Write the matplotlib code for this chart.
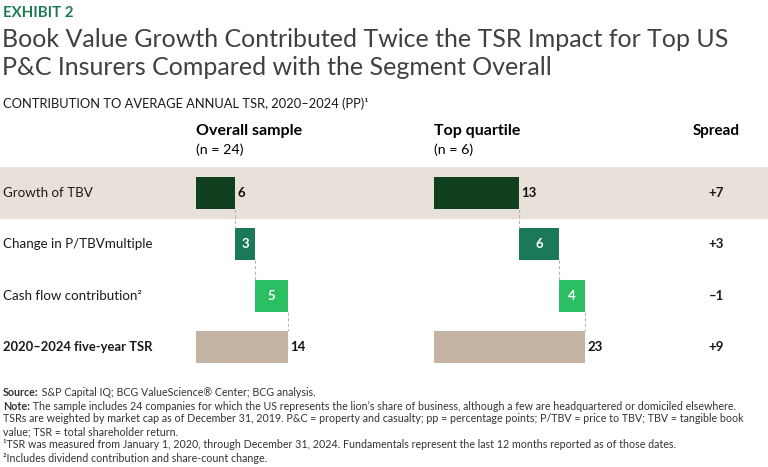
import numpy as np
import matplotlib.pyplot as plt

# data
rows = ["Growth of TBV", "Change in P/TBVmultiple",
        "Cash flow contribution\u00b2", "2020\u20132024 five-year TSR"]
overall = [6, 3, 5, 14]
top_quartile = [13, 6, 4, 23]
spread = [t - o for t, o in zip(top_quartile, overall)]

dark_green = "#0f3f1f"
mid_green = "#1a7a57"
light_green = "#2bbf63"
tan = "#c5b4a3"
band = "#e7e1d9"
bar_colors = [dark_green, mid_green, light_green, tan]

plt.rcParams['font.family'] = ['Lato', 'DejaVu Sans']

W, H = 768, 467
fig = plt.figure(figsize=(W / 100, H / 100), dpi=100)

# rows sit at pixel centers ~193..347, 51.3 px apart
row_px = 51.3
top_px = 193 - row_px / 2
bot_px = top_px + 4 * row_px
ax_y = (H - bot_px) / H
ax_h = (bot_px - top_px) / H
unit_px = 6.57
span = 30

ax_bg = fig.add_axes([0, ax_y, 1, ax_h])
ax_bg.set_xlim(0, 1)
ax_bg.set_ylim(3.5, -0.5)
ax_bg.axis("off")
ax_bg.axhspan(-0.5, 0.5, color=band, lw=0)
for i, lab in enumerate(rows):
    ax_bg.text(3 / W, i, lab, va="center", ha="left",
               fontsize=9.4 if i == 3 else 9.6,
               fontweight="bold" if i == 3 else "normal", color="#1a1a1a")
    s = spread[i]
    txt = ("+%d" % s) if s > 0 else ("\u2013%d" % abs(s))
    ax_bg.text(716 / W, i, txt, va="center", ha="center", fontsize=9.5,
               fontweight="bold", color="#1a1a1a")


def waterfall(ax, vals):
    h = 0.62
    starts = [0, vals[0], vals[0] + vals[1], 0]
    for i, (v, s) in enumerate(zip(vals, starts)):
        ax.barh(i, v, left=s, height=h, color=bar_colors[i], lw=0)
        if i in (1, 2):
            ax.text(s + v / 2, i, str(v), ha="center", va="center",
                    color="white", fontsize=9.5, fontweight="bold")
        else:
            ax.text(s + v + 0.3, i, str(v), ha="left", va="center",
                    color="#111111", fontsize=9.5, fontweight="bold")
        if i < 3:
            x = s + v
            ax.plot([x, x], [i + h / 2, i + 1 - h / 2], color="#b8b8b8",
                    lw=0.8, ls=(0, (3, 2)))
    ax.set_xlim(0, span)
    ax.set_ylim(3.5, -0.5)
    ax.axis("off")


for left_px, vals in ((196, overall), (434, top_quartile)):
    ax = fig.add_axes([left_px / W, ax_y, span * unit_px / W, ax_h])
    waterfall(ax, vals)

# headings
fig.text(3 / W, 1 - 13 / H, "EXHIBIT 2", color="#1e7b55", fontsize=10.8,
         fontweight="bold", va="center")
fig.text(2 / W, 1 - 47 / H, "Book Value Growth Contributed Twice the TSR Impact for Top US",
         fontsize=18, color="#404040", va="baseline")
fig.text(2 / W, 1 - 75 / H, "P&C Insurers Compared with the Segment Overall",
         fontsize=18, color="#404040", va="baseline")
fig.text(3 / W, 1 - 104 / H, "CONTRIBUTION TO AVERAGE ANNUAL TSR, 2020\u20132024 (PP)\u00b9",
         fontsize=9.3, color="#1a1a1a", va="center")
fig.text(196 / W, 1 - 131 / H, "Overall sample", fontsize=11.5,
         fontweight="bold", va="center")
fig.text(196 / W, 1 - 150 / H, "(n = 24)", fontsize=10.3, va="center")
fig.text(434 / W, 1 - 131 / H, "Top quartile", fontsize=11.5,
         fontweight="bold", va="center")
fig.text(434 / W, 1 - 150 / H, "(n = 6)", fontsize=10.3, va="center")
fig.text(716 / W, 1 - 131 / H, "Spread", fontsize=11,
         fontweight="bold", va="center", ha="center")

# footnotes
fs = 7.7
lines = [
    ("Source:", " S&P Capital IQ; BCG ValueScience\u00ae Center; BCG analysis."),
    ("Note:", " The sample includes 24 companies for which the US represents the lion\u2019s share of business, although a few are headquartered or domiciled elsewhere."),
    ("", "TSRs are weighted by market cap as of December 31, 2019. P&C = property and casualty; pp = percentage points; P/TBV = price to TBV; TBV = tangible book"),
    ("", "value; TSR = total shareholder return."),
    ("", "\u00b9TSR was measured from January 1, 2020, through December 31, 2024. Fundamentals represent the last 12 months reported as of those dates."),
    ("", "\u00b2Includes dividend contribution and share-count change."),
]
y0 = 393
for k, (b, rest) in enumerate(lines):
    y = 1 - (y0 + k * 13) / H
    if b:
        t = fig.text(3 / W, y, b, fontsize=fs, fontweight="bold",
                     va="center", color="#333333")
        fig.add_artist(plt.Annotation(rest, xy=(1, 0.5), xycoords=t, va="center",
                                      ha="left", fontsize=fs, color="#333333"))
    else:
        fig.text(3 / W, y, rest, fontsize=fs, va="center", color="#333333")

fig.savefig("out.png", dpi=100)
